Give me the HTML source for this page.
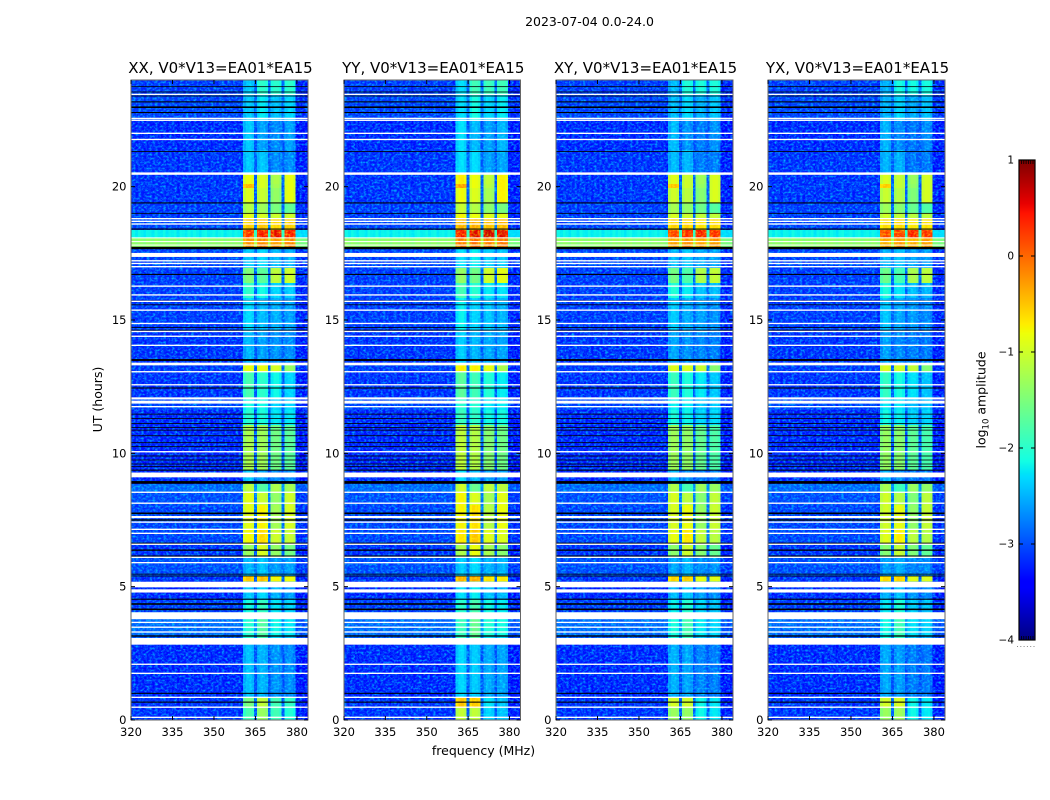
<!DOCTYPE html>
<html>
<head>
<meta charset="utf-8">
<title>2023-07-04 0.0-24.0</title>
<style>
html,body{margin:0;padding:0;background:#fff;}
svg{display:block;}
text{font-family:"DejaVu Sans","Liberation Sans",sans-serif;fill:#000;}
</style>
</head>
<body>
<svg id="chart" xmlns="http://www.w3.org/2000/svg" width="1050" height="800" viewBox="0 0 1050 800">
<defs>
<filter id="grain" x="0" y="0" width="1" height="1" color-interpolation-filters="sRGB">
<feTurbulence type="fractalNoise" baseFrequency="0.36 0.5" numOctaves="2" seed="4"/>
<feColorMatrix values="0 0 0 0 0  1.5 0 0 0 -0.62  0 0 0 0 0  0 0 0 0 1"/>
</filter>
</defs>
<rect x="0" y="0" width="1050" height="800" fill="#fff"/>
<text x="589.5" y="26" font-size="12.5" text-anchor="middle">2023-07-04 0.0-24.0</text>
<text x="483.5" y="755" font-size="12.5" text-anchor="middle">frequency (MHz)</text>
<text transform="translate(102 399.5) rotate(-90)" font-size="12.5" text-anchor="middle">UT (hours)</text>
<text transform="translate(985.5 400) rotate(-90)" font-size="12.5" text-anchor="middle">log<tspan font-size="8.5" dy="3">10</tspan><tspan dy="-3"> amplitude</tspan></text>
<g id="panels"></g>
<g id="colorbar"></g>
</svg>
<script>
// ---------- chart data ----------
var panelTitles = ["XX, V0*V13=EA01*EA15", "YY, V0*V13=EA01*EA15", "XY, V0*V13=EA01*EA15", "YX, V0*V13=EA01*EA15"];
var panelNames = ["xx", "yy", "xy", "yx"];
var xTickValues = [320, 335, 350, 365, 380];
var yTickValues = [0, 5, 10, 15, 20];
var colorbarTickValues = [1, 0, -1, -2, -3, -4];

// start hour of each horizontal block of the spectrogram
var segmentStart = [0, 0.45, 0.85, 2.85, 3.15, 4.05, 4.5, 5.19, 5.4, 6.07, 6.6, 7.12, 8.06, 8.54, 8.85, 9.37, 11.06, 11.62, 12.1, 13.05, 13.35, 14.62, 15.82, 16.38, 16.95, 17.7, 18.07, 18.37, 18.82, 19, 19.39, 19.95, 20.1, 20.47, 21.37, 22.5, 23.45];
// log10 amplitude outside the lit sub-bands, per block
var backgroundLevel = [-3.25, -3.25, -3.3, -3.05, -2.95, -3.2, -3.3, -3.25, -3.1, -3.25, -3.15, -3.15, -3.1, -2.95, -3.3, -3.3, -3.3, -3.15, -3.25, -3.2, -3.25, -3.2, -3.2, -3.2, -3.15, -1.4, -2.2, -3.15, -3.2, -3.2, -3.25, -3.25, -3.25, -3.25, -3.3, -3.15, -3.2];
// log10 amplitude of the four lit sub-bands, per block
var bandALevel = [-1.9, -1.6, -2.55, -2.1, -2.1, -2.2, -2.5, -0.55, -2.6, -1.4, -0.85, -0.95, -0.95, -1.2, -2.5, -1.3, -2.1, -2.2, -1.9, -0.9, -2.6, -2.4, -2.05, -1.55, -2.5, -0.25, 0.25, -0.55, -0.95, -1.25, -1, -0.45, -0.9, -2.5, -2.5, -2.5, -2.5];
var bandBLevel = [-1.4, -1.15, -2.6, -1.9, -1.8, -2, -2.4, -0.5, -2.5, -1, -0.65, -0.8, -1.1, -1.8, -2.7, -1.35, -2.15, -2.2, -2.05, -0.9, -2.7, -2.55, -2.2, -1.75, -2.4, -0.15, 0.4, -0.5, -1, -1.35, -1.1, -1, -1, -2.5, -2.7, -2.3, -2.05];
var bandCLevel = [-1.9, -1.9, -2.75, -2.4, -2.2, -2.3, -2.6, -0.8, -2.7, -1.4, -1.05, -1.3, -1.4, -1.25, -2.8, -1.6, -2.3, -2.4, -2.2, -1, -2.75, -2.6, -2.4, -1.15, -2.55, -0.25, 0.5, -0.6, -1.05, -1.55, -1.4, -1.3, -1.25, -2.8, -2.8, -2.5, -2.05];
var bandDLevel = [-2.1, -2, -2.8, -2.5, -2.3, -2.4, -2.7, -0.85, -2.7, -1.6, -1.1, -1, -1.05, -1.3, -2.8, -1.75, -2.3, -2.4, -2.4, -1.4, -2.8, -2.7, -2.45, -1.05, -2.6, -0.15, 0.4, -0.55, -1.05, -1.7, -0.9, -0.9, -0.9, -2.8, -2.7, -2.4, -2.05];

// the four panels differ mainly by a level shift of the lit sub-bands
var panelBandShift = [0, 0.12, -0.08, -0.12];
// the two lowest blocks (0 to 0.85 h) differ per panel: A, B, C, D
var lowestBlockXX = [-1.9, -1.4, -1.9, -2.1];
var lowestBlockYY = [-1.15, -1.15, -2.4, -2.5];
var lowestBlockXY = [-1.4, -1.4, -2.2, -2.3];
var lowestBlockYX = [-1.4, -1.35, -2.2, -2.3];
var secondBlockXX = [-1.6, -1.15, -1.9, -2];
var secondBlockYY = [-0.55, -0.55, -2.3, -2.5];
var secondBlockXY = [-1.05, -1.05, -2.2, -2.3];
var secondBlockYX = [-1.05, -1, -2.2, -2.3];

// sub-band membership per 1 MHz channel (320..383): -1 none, 0-3 band, 9 gap between bands
var channelBand = [-1,-1,-1,-1,-1,-1,-1,-1,-1,-1,-1,-1,-1,-1,-1,-1,-1,-1,-1,-1,-1,-1,-1,-1,-1,-1,-1,-1,-1,-1,-1,-1,-1,-1,-1,-1,-1,-1,-1,-1,0,0,0,0,9,1,1,1,1,9,2,2,2,2,9,3,3,3,3,-1,-1,-1,-1,-1];
// small per-channel deviation in log10 amplitude
var channelOffset = [0.04,-0.03,0.05,0,-0.05,0.03,0.02,-0.04,0.06,0,-0.02,0.05,-0.04,0.02,0,0.04,-0.06,0.03,0.01,-0.03,0.05,-0.02,0.04,0,-0.05,0.03,0.06,-0.02,0,0.04,-0.03,0.02,0.05,-0.04,0.01,0.03,-0.02,0.04,0,-0.05,-0.05,0.08,0.1,0,0,-0.05,0.08,0.06,-0.02,0,-0.04,0.06,0.05,-0.04,0,0,0.07,0.06,-0.04,-0.12,-0.08,-0.14,-0.1,-0.1];

// flagged (white) and zero-amplitude (black) rows: [centre hour, thickness in hours]
var whiteRows = [[0.1,0.05],[0.48,0.05],[0.85,0.05],[1.75,0.05],[2.09,0.05],[2.95,0.25],[3.3,0.05],[3.48,0.05],[3.66,0.05],[3.91,0.26],[4.84,0.12],[5.08,0.21],[5.9,0.05],[6.1,0.05],[6.59,0.05],[7,0.05],[7.15,0.05],[7.42,0.05],[7.61,0.08],[8.13,0.05],[8.54,0.05],[9.19,0.18],[10.06,0.05],[11.75,0.05],[11.92,0.11],[12.06,0.08],[12.57,0.05],[13.06,0.05],[13.35,0.1],[14.05,0.05],[14.39,0.05],[14.57,0.05],[14.87,0.05],[15.37,0.05],[15.7,0.05],[15.94,0.05],[16.27,0.05],[17,0.05],[17.12,0.05],[17.22,0.05],[17.44,0.15],[17.81,0.04],[17.94,0.04],[18.08,0.04],[18.6,0.05],[18.7,0.05],[18.8,0.05],[20.49,0.09],[21.77,0.05],[22,0.05],[22.49,0.05],[22.56,0.05],[23.46,0.05]];
var blackRows = [[0.67,0.04],[1,0.04],[3.15,0.05],[4.15,0.06],[4.35,0.06],[4.53,0.04],[5.4,0.03],[5.47,0.03],[6.15,0.04],[6.37,0.05],[6.63,0.04],[7.5,0.05],[7.75,0.06],[8.91,0.1],[9.37,0.04],[9.5,0.03],[9.6,0.03],[9.75,0.03],[9.9,0.03],[10.25,0.03],[10.4,0.03],[10.66,0.03],[10.87,0.03],[10.97,0.03],[11.12,0.03],[11.31,0.03],[11.47,0.03],[12.45,0.04],[13.5,0.07],[14.62,0.03],[14.72,0.03],[15.57,0.03],[15.72,0.03],[16.71,0.04],[17.7,0.09],[18.41,0.04],[19,0.03],[19.39,0.04],[21.32,0.03],[22.78,0.04],[22.98,0.06],[23.18,0.04],[23.4,0.03],[23.55,0.03],[23.75,0.03]];

// ---------- layout and axis functions ----------
var SVGNS = "http://www.w3.org/2000/svg";
var panelLeft = [131, 344, 556, 768];
var panelRight = [308, 520.5, 733, 945];
var plotTop = 80, plotBottom = 720;
var freqMin = 320, freqMax = 384, hourMin = 0, hourMax = 24;
var colorMin = -4, colorMax = 1;

function xScale(p, f) { return panelLeft[p] + (f - freqMin) / (freqMax - freqMin) * (panelRight[p] - panelLeft[p]); }
function yScale(h) { return plotBottom - (h - hourMin) / (hourMax - hourMin) * (plotBottom - plotTop); }
var cbTop = 160, cbBottom = 640, cbLeft = 1019, cbRight = 1035;
function cbScale(v) { return cbBottom - (v - colorMin) / (colorMax - colorMin) * (cbBottom - cbTop); }

function ramp(t, pts) {
  if (t <= pts[0][0]) return pts[0][1];
  for (var i = 1; i < pts.length; i++) {
    if (t <= pts[i][0]) {
      var a = pts[i - 1], b = pts[i];
      return a[1] + (t - a[0]) / (b[0] - a[0]) * (b[1] - a[1]);
    }
  }
  return pts[pts.length - 1][1];
}
var jetR = [[0, 0], [0.35, 0], [0.66, 1], [0.89, 1], [1, 0.5]];
var jetG = [[0, 0], [0.125, 0], [0.375, 1], [0.64, 1], [0.91, 0], [1, 0]];
var jetB = [[0, 0.5], [0.11, 1], [0.34, 1], [0.65, 0], [1, 0]];
function colorScale(v) {
  var t = Math.max(0, Math.min(1, (v - colorMin) / (colorMax - colorMin)));
  return "rgb(" + Math.round(ramp(t, jetR) * 255) + "," + Math.round(ramp(t, jetG) * 255) + "," + Math.round(ramp(t, jetB) * 255) + ")";
}
function svgEl(tag, parent) {
  var el = document.createElementNS(SVGNS, tag);
  parent.appendChild(el);
  return el;
}
function setAll(el, props) {
  for (var k in props) el.setAttribute(k, props[k]);
}
function cellLevel(p, s, c) {
  var band = channelBand[c];
  if (band === -1) return backgroundLevel[s] + channelOffset[c];
  if (band === 9) return backgroundLevel[s] + 0.25;
  if (s === 0) {
    var low = [lowestBlockXX, lowestBlockYY, lowestBlockXY, lowestBlockYX][p];
    return low[band] + channelOffset[c];
  }
  if (s === 1) {
    var second = [secondBlockXX, secondBlockYY, secondBlockXY, secondBlockYX][p];
    return second[band] + channelOffset[c];
  }
  var bandArrays = [bandALevel, bandBLevel, bandCLevel, bandDLevel];
  return bandArrays[band][s] + panelBandShift[p] + channelOffset[c];
}
// channels sit half a channel to the right of their nominal edge; the ends are clipped to the frame
function channelLeft(c) { return Math.max(freqMin, freqMin + c + 0.5); }
function channelRight(c) { return c === 0 ? freqMin + 1.5 : Math.min(freqMax, freqMin + c + 1.5); }

// ---------- panels ----------
var panelsRoot = document.getElementById("panels");
panelTitles.forEach(function (title, p) {
  var g = svgEl("g", panelsRoot);
  
  

  var titleEl = svgEl("text", g);
  
  
  setAll(titleEl, { x: (panelLeft[p] + panelRight[p]) / 2 + 1, y: 73, "font-size": 15, "text-anchor": "middle" });
  titleEl.textContent = title;

  // heatmap cells
  var cells = svgEl("g", g);
  
  
  cells.setAttribute("shape-rendering", "crispEdges");
  segmentStart.forEach(function (start, s) {
    var end = s + 1 < segmentStart.length ? segmentStart[s + 1] : hourMax;
    for (var c = 0; c < channelBand.length; c++) {
      var x0 = c === 0 ? freqMin : channelLeft(c);
      var cell = svgEl("rect", cells);
      
      
      setAll(cell, {
        x: xScale(p, x0),
        y: yScale(end),
        width: xScale(p, channelRight(c)) - xScale(p, x0),
        height: yScale(start) - yScale(end),
        fill: colorScale(cellLevel(p, s, c))
      });
    }
  });

  // fine visual grain over the cells (decorative, carries no data)
  var grain = svgEl("rect", g);
  
  
  setAll(grain, { x: panelLeft[p], y: plotTop, width: panelRight[p] - panelLeft[p], height: plotBottom - plotTop, filter: "url(#grain)", style: "mix-blend-mode:screen" });

  // flagged rows
  blackRows.forEach(function (row) {
    var line = svgEl("rect", g);
    
    
    setAll(line, { x: panelLeft[p], width: panelRight[p] - panelLeft[p], y: yScale(row[0] + row[1] / 2), height: yScale(row[0] - row[1] / 2) - yScale(row[0] + row[1] / 2), fill: "#000" });
  });
  whiteRows.forEach(function (row) {
    var line = svgEl("rect", g);
    
    
    setAll(line, { x: panelLeft[p], width: panelRight[p] - panelLeft[p], y: yScale(row[0] + row[1] / 2), height: yScale(row[0] - row[1] / 2) - yScale(row[0] + row[1] / 2), fill: "#fff" });
  });

  // frame
  var frame = svgEl("rect", g);
  
  
  setAll(frame, { x: panelLeft[p], y: plotTop, width: panelRight[p] - panelLeft[p], height: plotBottom - plotTop, fill: "none", stroke: "#666", "stroke-width": 1 });

  // x ticks
  xTickValues.forEach(function (f) {
    var x = xScale(p, f);
    [[plotBottom, plotBottom - 4], [plotTop, plotTop + 4]].forEach(function (span) {
      var tick = svgEl("line", g);
      
      
      setAll(tick, { x1: x, x2: x, y1: span[0], y2: span[1], stroke: "#000", "stroke-width": 1 });
    });
    var label = svgEl("text", g);
    
    
    setAll(label, { x: x, y: 736, "font-size": 11.5, "text-anchor": "middle" });
    label.textContent = f;
  });

  // y ticks
  yTickValues.forEach(function (h) {
    var y = yScale(h);
    [[panelLeft[p], panelLeft[p] + 4], [panelRight[p], panelRight[p] - 4]].forEach(function (span) {
      var tick = svgEl("line", g);
      
      
      setAll(tick, { x1: span[0], x2: span[1], y1: y, y2: y, stroke: "#000", "stroke-width": 1 });
    });
    var label = svgEl("text", g);
    
    
    setAll(label, { x: panelLeft[p] - 4.5, y: y + 4, "font-size": 11.5, "text-anchor": "end" });
    label.textContent = h;
  });
});

// ---------- colorbar ----------
var cbRoot = document.getElementById("colorbar");
var cbSteps = 240;
for (var i = 0; i < cbSteps; i++) {
  var vLow = colorMin + (colorMax - colorMin) * i / cbSteps;
  var vHigh = colorMin + (colorMax - colorMin) * (i + 1) / cbSteps;
  var swatch = svgEl("rect", cbRoot);
  
  
  setAll(swatch, { x: cbLeft, width: cbRight - cbLeft, y: cbScale(vHigh), height: cbScale(vLow) - cbScale(vHigh) + 0.4, fill: colorScale((vLow + vHigh) / 2), "shape-rendering": "crispEdges" });
}
var cbFrame = svgEl("rect", cbRoot);


setAll(cbFrame, { x: cbLeft, y: cbTop, width: cbRight - cbLeft, height: cbBottom - cbTop, fill: "none", stroke: "#000", "stroke-width": 1.2 });
colorbarTickValues.forEach(function (v) {
  var y = cbScale(v);
  [[cbLeft, cbLeft + 4], [cbRight, cbRight - 4]].forEach(function (span) {
    var tick = svgEl("line", cbRoot);
    
    
    setAll(tick, { x1: span[0], x2: span[1], y1: y, y2: y, stroke: "#000", "stroke-width": 1 });
  });
  var label = svgEl("text", cbRoot);
  
  
  setAll(label, { x: 1014, y: y + 3.5, "font-size": 10.5, "text-anchor": "end" });
  label.textContent = v < 0 ? "\u2212" + Math.abs(v) : String(v);
});
for (var m = 0; m < 6; m++) {
  var mx = cbLeft + 2.5 + m * 2.3;
  [[cbTop, cbTop + 4], [cbBottom, cbBottom - 4]].forEach(function (span) {
    var minor = svgEl("line", cbRoot);
    
    
    setAll(minor, { x1: mx, x2: mx, y1: span[0], y2: span[1], stroke: "#000", "stroke-width": 0.8 });
  });
  var dot = svgEl("rect", cbRoot);
  
  
  setAll(dot, { x: cbLeft - 2 + m * 3.3, y: 646, width: 1, height: 1, fill: "#888" });
}
</script>
</body>
</html>
